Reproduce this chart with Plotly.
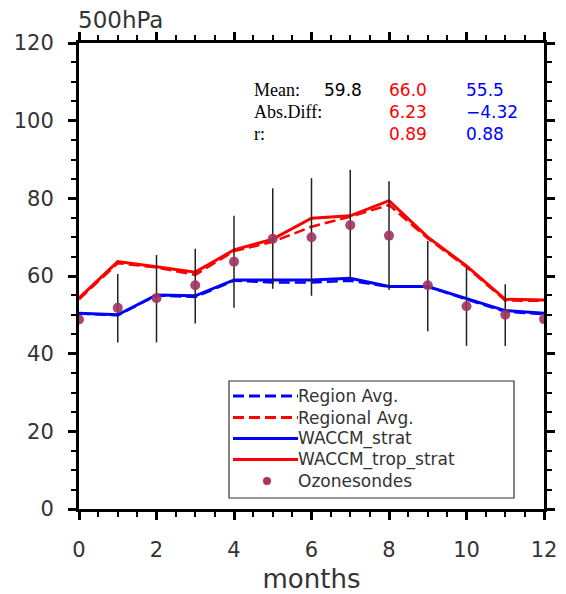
import plotly.graph_objects as go

months = list(range(13))
trop_strat = [54.3, 63.7, 62.4, 61.0, 66.7, 69.5, 74.9, 75.5, 79.4, 70.0, 62.6, 54.0, 53.8]
regional_avg = [54.0, 63.3, 62.2, 60.3, 66.4, 68.8, 72.7, 75.3, 78.3, 69.7, 62.3, 53.7, 53.6]
strat = [50.4, 50.0, 55.1, 54.9, 59.0, 59.0, 59.0, 59.4, 57.3, 57.3, 54.3, 51.1, 50.4]
region_avg = [50.3, 49.9, 55.0, 54.6, 58.8, 58.3, 58.3, 58.8, 57.2, 57.3, 54.0, 50.8, 50.2]
sondes = [48.8, 51.8, 54.3, 57.6, 63.7, 69.6, 70.0, 73.1, 70.4, 57.6, 52.2, 50.0, 48.9]
sondes_hi = [48.8, 60.5, 65.4, 67.0, 75.5, 82.6, 85.2, 87.3, 84.4, 69.0, 62.2, 57.9, 48.9]
sondes_lo = [48.8, 42.9, 42.9, 47.8, 51.8, 56.7, 54.9, 59.2, 56.4, 45.8, 42.0, 42.0, 48.9]

legend_labels = ["Region Avg.", "Regional Avg.", "WACCM_strat", "WACCM_trop_strat", "Ozonesondes"]
stat_labels = ["Mean:", "Abs.Diff:", "r:"]
stat_obs = ["59.8", "", ""]
stat_red = ["66.0", "6.23", "0.89"]
stat_blue = ["55.5", "\u22124.32", "0.88"]

W, H = 566, 594
L, R, T, B = 79, 544, 43, 509
def px(x):
    return (x - L) / (R - L)
def py(y):
    return (B - y) / (B - T)

RED = "#ff0000"
BLUE = "#0000ff"
DOT = "#9E3461"
FONT = "DejaVu Sans"
TXT = "#333333"
DASH = "11px,5px"

fig = go.Figure()
fig.add_trace(go.Scatter(x=months, y=region_avg, mode="lines", name=legend_labels[0],
                         line=dict(color=BLUE, width=2.5, dash=DASH), showlegend=False))
fig.add_trace(go.Scatter(x=months, y=regional_avg, mode="lines", name=legend_labels[1],
                         line=dict(color=RED, width=2.5, dash=DASH), showlegend=False))
fig.add_trace(go.Scatter(x=months, y=strat, mode="lines", name=legend_labels[2],
                         line=dict(color=BLUE, width=3), showlegend=False))
fig.add_trace(go.Scatter(x=months, y=trop_strat, mode="lines", name=legend_labels[3],
                         line=dict(color=RED, width=3), showlegend=False))
fig.add_trace(go.Scatter(
    x=months, y=sondes, mode="markers", name=legend_labels[4],
    marker=dict(color=DOT, size=10, opacity=0.9),
    error_y=dict(type="data", symmetric=False,
                 array=[h - s for h, s in zip(sondes_hi, sondes)],
                 arrayminus=[s - l for s, l in zip(sondes, sondes_lo)],
                 color="#222222", thickness=1.5, width=0),
    showlegend=False))

shapes = []
annotations = []

# legend box
shapes.append(dict(type="rect", xref="paper", yref="paper",
                   x0=px(229), x1=px(514), y0=py(498), y1=py(381),
                   line=dict(color="#333333", width=1.2), fillcolor="white", layer="above"))
rows = [396, 417.5, 438.5, 459.5, 481]
styles = [(BLUE, DASH), (RED, DASH), (BLUE, "solid"), (RED, "solid")]
for i, (c, d) in enumerate(styles):
    shapes.append(dict(type="line", xref="paper", yref="paper",
                       x0=px(233), x1=px(298), y0=py(rows[i]), y1=py(rows[i]),
                       line=dict(color=c, width=3, dash=d), layer="above"))
shapes.append(dict(type="circle", xref="paper", yref="paper",
                   x0=px(263), x1=px(271), y0=py(485), y1=py(477),
                   line=dict(width=0), fillcolor="#B03060", layer="above"))
for i, lab in enumerate(legend_labels):
    annotations.append(dict(text=lab, xref="paper", yref="paper", x=px(297), y=py(rows[i]),
                            xanchor="left", yanchor="middle", showarrow=False, borderpad=0,
                            font=dict(family=FONT, size=17, color=TXT)))

# stats text
srows = [90, 112, 134]
for i in range(3):
    annotations.append(dict(text=stat_labels[i], xref="paper", yref="paper", x=px(252), y=py(srows[i]),
                            xanchor="left", yanchor="middle", showarrow=False,
                            font=dict(family="Liberation Serif", size=18, color="black")))
    if stat_obs[i]:
        annotations.append(dict(text=stat_obs[i], xref="paper", yref="paper", x=px(322), y=py(srows[i]),
                                xanchor="left", yanchor="middle", showarrow=False,
                                font=dict(family=FONT, size=17, color="black")))
    annotations.append(dict(text=stat_red[i], xref="paper", yref="paper", x=px(387), y=py(srows[i]),
                            xanchor="left", yanchor="middle", showarrow=False,
                            font=dict(family=FONT, size=17, color=RED)))
    annotations.append(dict(text=stat_blue[i], xref="paper", yref="paper", x=px(464), y=py(srows[i]),
                            xanchor="left", yanchor="middle", showarrow=False,
                            font=dict(family=FONT, size=17, color=BLUE)))

# title
annotations.append(dict(text="500hPa", xref="paper", yref="paper", x=px(76), y=py(20),
                        xanchor="left", yanchor="middle", showarrow=False,
                        font=dict(family=FONT, size=23, color=TXT)))

axis_common = dict(showline=True, linecolor="black", linewidth=3, mirror="ticks",
                   ticks="outside", ticklen=8, tickwidth=3, tickcolor="black",
                   showgrid=False, zeroline=False, automargin=False,
                   tickfont=dict(family=FONT, size=21, color=TXT))

fig.update_layout(
    width=W, height=H,
    margin=dict(l=L, r=W - R, t=T, b=H - B),
    plot_bgcolor="white", paper_bgcolor="white",
    xaxis=dict(range=[0, 12], tickvals=[0, 2, 4, 6, 8, 10, 12],
               minor=dict(dtick=0.5, tick0=0, ticks="outside", ticklen=5, tickwidth=1.5, tickcolor="black"),
               title=dict(text="months", font=dict(family=FONT, size=26, color=TXT), standoff=12),
               ticklabelstandoff=12, **axis_common),
    yaxis=dict(range=[0, 120], tickvals=[0, 20, 40, 60, 80, 100, 120],
               minor=dict(dtick=5, tick0=0, ticks="outside", ticklen=5, tickwidth=1.5, tickcolor="black"),
               ticklabelstandoff=10, **axis_common),
    shapes=shapes, annotations=annotations,
)

fig.write_html("out.html")
